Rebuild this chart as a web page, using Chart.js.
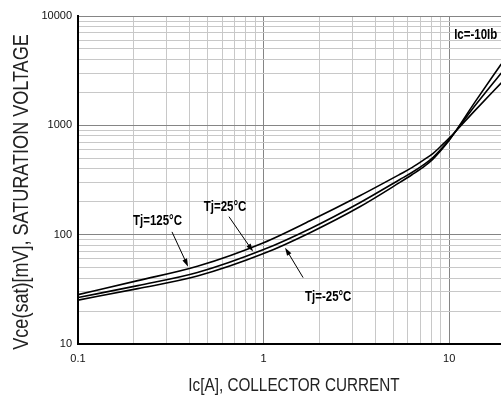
<!DOCTYPE html>
<html>
<head>
<meta charset="utf-8">
<script src="https://cdn.jsdelivr.net/npm/chart.js@4.4.1/dist/chart.umd.min.js"></script>
<style>
html, body { margin: 0; padding: 0; background: #fff; overflow: hidden; width: 501px; height: 401px; }
canvas { display: block; }
</style>
</head>
<body>
<canvas id="chart" width="506" height="401"></canvas>
<script>
// collector current [A] and saturation voltage [mV]
const current = [0.1, 0.21, 0.44, 1, 1.78, 3.3, 5.4, 6.3, 7.4, 8.2, 8.9, 10.1, 13.8, 19.1];
const vceHot  = [28.3, 38, 51.4, 84.5, 134, 227, 355, 410, 490, 555, 630, 776, 1371, 2444];  // Tj=125
const vceRoom = [26.6, 34.2, 45, 73, 113.4, 196, 318, 370, 444, 510, 587, 754, 1516, 3017];  // Tj=25
const vceCold = [25.2, 32.1, 41.8, 67.1, 104.3, 180, 299, 353, 425, 494, 574, 747, 1640, 3644]; // Tj=-25

const xDecades = [0.1, 1, 10];
const yDecades = [10, 100, 1000, 10000];
const xLabels = ["0.1", "1", "10"];
const yLabels = ["10", "100", "1000", "10000"];

// labels and arrows in data units
const notes = [
  { text: "Tj=125°C", x: 0.268, y: 134 },
  { text: "Tj=25°C", x: 0.62, y: 180 },
  { text: "Tj=-25°C", x: 2.23, y: 26.6 },
  { text: "Ic=-10Ib", x: 13.9, y: 6700 }
];
const arrows = [
  { from: [0.321, 106], to: [0.392, 51] },
  { from: [0.651, 146], to: [0.878, 70] },
  { from: [1.633, 40.5], to: [1.306, 76] }
];

const FONT = '"Liberation Sans", Arial, sans-serif';

function gridValues(decades, top) {
  const out = [];
  decades.forEach(d => {
    for (let k = 1; k < 10; k++) {
      const v = d * k;
      if (v <= top) out.push(v);
    }
  });
  if (!out.includes(top)) out.push(top);
  return out;
}
const xGrid = gridValues(xDecades, 20);
const yGrid = gridValues(yDecades.slice(0, 3), 10000);

function narrowText(ctx, text, x, y, font, sx, rot) {
  ctx.save();
  ctx.translate(x, y);
  if (rot) ctx.rotate(rot);
  ctx.scale(sx, 1);
  ctx.font = font;
  ctx.textAlign = "center";
  ctx.textBaseline = "middle";
  ctx.fillText(text, 0, 0);
  ctx.restore();
}

const extras = {
  id: "extras",
  afterDatasetsDraw(chart) {
    const ctx = chart.ctx;
    const xs = chart.scales.x, ys = chart.scales.y;
    const area = chart.chartArea;
    ctx.save();
    ctx.fillStyle = "#000";
    ctx.strokeStyle = "#000";
    notes.forEach(n => {
      narrowText(ctx, n.text, xs.getPixelForValue(n.x), ys.getPixelForValue(n.y),
        "bold 14px " + FONT, 0.82, 0);
    });
    arrows.forEach(a => {
      const x1 = xs.getPixelForValue(a.from[0]), y1 = ys.getPixelForValue(a.from[1]);
      const x2 = xs.getPixelForValue(a.to[0]), y2 = ys.getPixelForValue(a.to[1]);
      const ang = Math.atan2(y2 - y1, x2 - x1);
      ctx.lineWidth = 1;
      ctx.beginPath();
      ctx.moveTo(x1, y1);
      ctx.lineTo(x2 - 6 * Math.cos(ang), y2 - 6 * Math.sin(ang));
      ctx.stroke();
      ctx.beginPath();
      ctx.moveTo(x2, y2);
      ctx.lineTo(x2 - 8 * Math.cos(ang) + 2.5 * Math.sin(ang), y2 - 8 * Math.sin(ang) - 2.5 * Math.cos(ang));
      ctx.lineTo(x2 - 8 * Math.cos(ang) - 2.5 * Math.sin(ang), y2 - 8 * Math.sin(ang) + 2.5 * Math.cos(ang));
      ctx.closePath();
      ctx.fill();
    });
    ctx.fillStyle = "#222";
    narrowText(ctx, "Ic[A], COLLECTOR CURRENT", 294, 386, "18px " + FONT, 0.85, 0);
    narrowText(ctx, "Vce(sat)[mV], SATURATION VOLTAGE", 21.5, (area.top + area.bottom) / 2 + 12,
      "22px " + FONT, 0.82, -Math.PI / 2);
    ctx.restore();
  }
};

const line = (label, data) => ({
  label,
  data: current.map((x, i) => ({ x, y: data[i] })),
  borderColor: "#000",
  borderWidth: 1.6,
  pointRadius: 0,
  fill: false,
  cubicInterpolationMode: "monotone"
});

new Chart(document.getElementById("chart"), {
  type: "line",
  data: {
    datasets: [
      line("Tj=125°C", vceHot),
      line("Tj=25°C", vceRoom),
      line("Tj=-25°C", vceCold)
    ]
  },
  options: {
    responsive: false,
    animation: false,
    devicePixelRatio: 1,
    layout: { padding: { top: 16, right: 1, left: 0, bottom: 0 } },
    plugins: { legend: { display: false }, tooltip: { enabled: false } },
    scales: {
      x: {
        type: "logarithmic",
        min: 0.1,
        max: 20,
        afterBuildTicks: s => { s.ticks = xGrid.map(v => ({ value: v, major: xDecades.includes(v) })); },
        afterFit: s => { s.height = 57; s.paddingLeft = 0; s.paddingRight = 0; },
        grid: {
          drawTicks: false,
          lineWidth: 1,
          color: c => (c.tick && c.tick.major ? "#858585" : "#c8c8c8")
        },
        border: { color: "#000", width: 2 },
        ticks: {
          autoSkip: false,
          maxRotation: 0,
          padding: 8,
          color: "#111",
          font: { family: FONT, size: 11 },
          callback: v => { const i = xDecades.indexOf(v); return i >= 0 ? xLabels[i] : ""; }
        }
      },
      y: {
        type: "logarithmic",
        min: 10,
        max: 10000,
        afterBuildTicks: s => { s.ticks = yGrid.map(v => ({ value: v, major: yDecades.includes(v) })); },
        afterFit: s => { s.width = 78; },
        grid: {
          drawTicks: false,
          lineWidth: 1,
          color: c => (c.tick && c.tick.major ? "#858585" : "#c8c8c8")
        },
        border: { color: "#000", width: 2 },
        ticks: {
          autoSkip: false,
          padding: 6,
          color: "#111",
          font: { family: FONT, size: 11 },
          callback: v => { const i = yDecades.indexOf(v); return i >= 0 ? yLabels[i] : ""; }
        }
      }
    }
  },
  plugins: [extras]
});
</script>
</body>
</html>
